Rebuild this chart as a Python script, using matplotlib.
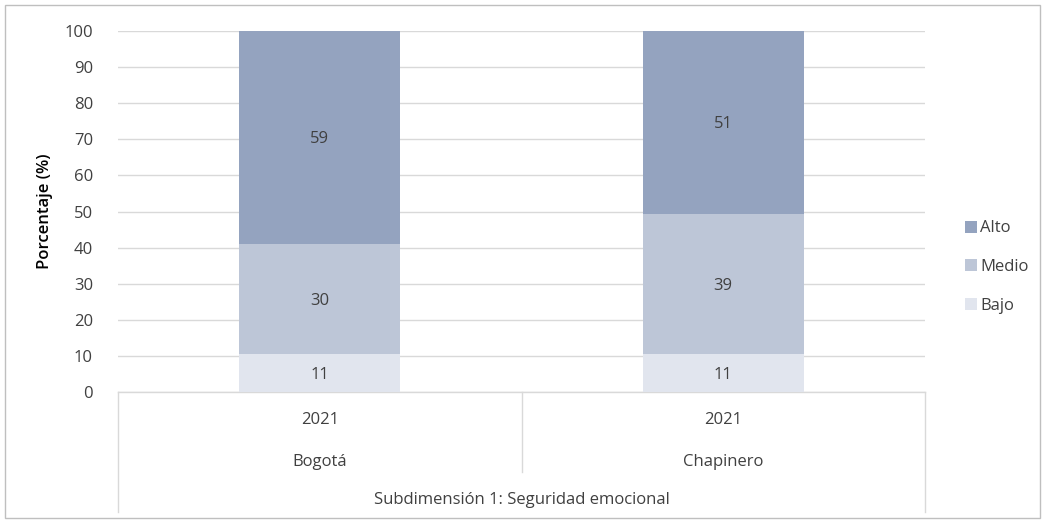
import matplotlib.pyplot as plt
import numpy as np
from matplotlib.patches import Rectangle

plt.rcParams['font.family'] = ['Open Sans', 'DejaVu Sans']

regions = ['Bogotá', 'Chapinero']
years = ['2021', '2021']
group_label = 'Subdimensión 1: Seguridad emocional'
bajo = [10.6, 10.6]
medio = [30.4, 38.8]
alto = [59.0, 50.6]
series = ['Bajo', 'Medio', 'Alto']
colors = ['#E1E5EE', '#BDC6D7', '#94A3BF']
txt = '#404040'
fs = 12

fig = plt.figure(figsize=(10.45, 5.23), dpi=100)
ax = fig.add_axes([118/1045, 1-392/523, (925-118)/1045, (392-31)/523])

x = np.arange(len(regions))
bottom = np.zeros(len(regions))
bars = []
for name, vals, c in zip(series, [bajo, medio, alto], colors):
    b = ax.bar(x, vals, 0.4, bottom=bottom, color=c, label=name, zorder=3)
    for xi, v, bt in zip(x, vals, bottom):
        ax.text(xi, bt + v/2, str(int(round(v))), ha='center', va='center_baseline',
                fontsize=fs, color=txt, zorder=4)
    bottom += np.array(vals)
    bars.append(b)

ax.set_xlim(-0.5, 1.5)
ax.set_ylim(0, 100)
ax.set_yticks(range(0, 101, 10))
ax.tick_params(axis='y', length=0, pad=18, labelsize=fs, labelcolor=txt)
ax.set_xticks([])
ax.grid(axis='y', color='#D9D9D9', linewidth=1, zorder=0)
for s in ['top', 'right', 'left']:
    ax.spines[s].set_visible(False)
ax.spines['bottom'].set_color('#D9D9D9')
ax.spines['bottom'].set_linewidth(1)
ax.set_ylabel('Porcentaje (%)', fontsize=12, color='black', fontweight='semibold', labelpad=8)

# multi-level category axis
tr = ax.get_xaxis_transform()
lc = '#D9D9D9'
ax.plot([-0.5, -0.5], [0, -0.332], color=lc, lw=1, transform=tr, clip_on=False)
ax.plot([1.5, 1.5], [0, -0.332], color=lc, lw=1, transform=tr, clip_on=False)
ax.plot([0.5, 0.5], [0, -0.2216], color=lc, lw=1, transform=tr, clip_on=False)
for xi, yr, rg in zip(x, years, regions):
    ax.text(xi, -0.072, yr, transform=tr, ha='center', va='center_baseline', fontsize=fs, color=txt)
    ax.text(xi, -0.188, rg, transform=tr, ha='center', va='center_baseline', fontsize=fs, color=txt)
ax.text(0.5, -0.294, group_label, transform=tr, ha='center', va='center_baseline', fontsize=fs, color=txt)

handles = bars[::-1]
leg = fig.legend(handles, [h.get_label() for h in handles], loc='center left',
                 bbox_to_anchor=(950/1045, 1-267/523), frameon=False,
                 handlelength=0.7, handleheight=0.7, handletextpad=0.2,
                 labelspacing=1.35, fontsize=fs, labelcolor=txt)

fig.patches.append(Rectangle((5/1045, 5/523), 1-10/1045, 1-10/523, transform=fig.transFigure,
                             fill=False, edgecolor='#BFBFBF', linewidth=1))

fig.savefig('out.png', dpi=100)
